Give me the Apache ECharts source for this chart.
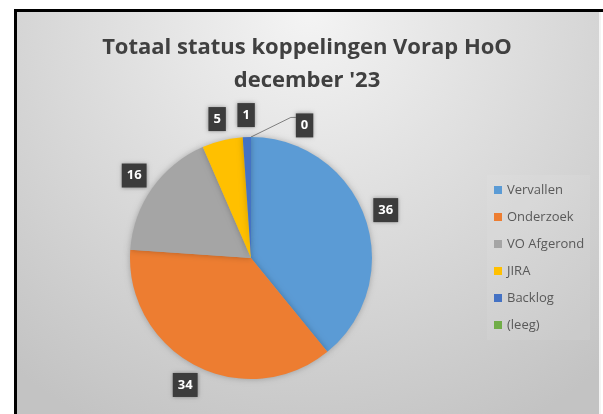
<!DOCTYPE html>
<html>
<head>
<meta charset="utf-8">
<script src="https://cdn.jsdelivr.net/npm/echarts@6/dist/echarts.min.js"></script>
<style>
  html, body { margin: 0; padding: 0; background: #fff; }
  #chart { width: 603px; height: 414px; }
</style>
</head>
<body>
<div id="chart"></div>
<script>
const categories = ["Vervallen", "Onderzoek", "VO Afgerond", "JIRA", "Backlog", "(leeg)"];
const values = [36, 34, 16, 5, 1, 0];
const colors = ["#5B9BD5", "#ED7D31", "#A5A5A5", "#FFC000", "#4472C4", "#70AD47"];

const chart = echarts.init(document.getElementById("chart"));

const cx = 251, cy = 258, radius = 121;
const labelDist = 143;
const total = values.reduce((a, b) => a + b, 0);

// middle angle of each slice, clockwise from the top (radians)
function midAngle(i) {
  let before = 0;
  for (let k = 0; k < i; k++) before += values[k];
  return ((before + values[i] / 2) / total) * Math.PI * 2;
}

chart.setOption({
  animation: false,
  graphic: [
    {
      type: "rect",
      silent: true,
      z: -10,
      shape: { x: 16, y: 11, width: 584, height: 403 },
      style: {
        fill: {
          type: "radial", x: 0.5, y: 0, r: 1.15,
          colorStops: [
            { offset: 0, color: "#f4f4f4" },
            { offset: 1, color: "#c3c3c3" },
          ],
        },
      },
    },
    { type: "rect", silent: true, z: -9, shape: { x: 14, y: 9, width: 589, height: 3 }, style: { fill: "#000" } },
    { type: "rect", silent: true, z: -9, shape: { x: 14, y: 9, width: 3, height: 405 }, style: { fill: "#000" } },
    { type: "rect", silent: true, z: -9, shape: { x: 599, y: 12, width: 2, height: 402 }, style: { fill: "#f4f4f4" } },
  ],
  title: {
    text: "Totaal status koppelingen Vorap HoO\ndecember '23",
    left: 302,
    top: 26,
    textAlign: "center",
    textStyle: {
      fontFamily: "Open Sans",
      fontSize: 22,
      fontWeight: "bold",
      color: "#404040",
      lineHeight: 33,
    },
  },
  legend: {
    orient: "vertical",
    left: 487,
    top: 175,
    padding: [7, 6, 7, 7],
    backgroundColor: "rgba(255,255,255,0.07)",
    itemWidth: 8,
    itemHeight: 8,
    itemGap: 11,
    icon: "rect",
    data: categories,
    textStyle: { fontFamily: "Open Sans", fontSize: 13, lineHeight: 16, color: "#595959" },
  },
  series: [
    {
      type: "pie",
      center: [cx, cy],
      radius: radius,
      startAngle: 90,
      avoidLabelOverlap: false,
      stillShowZeroSum: true,
      itemStyle: { shadowBlur: 6, shadowColor: "rgba(0,0,0,0.25)" },
      label: {
        show: true,
        position: "outside",
        formatter: "{c}",
        color: "#fff",
        fontFamily: "Open Sans",
        fontWeight: "bold",
        fontSize: 13,
        lineHeight: 14,
        backgroundColor: "#3c3c3c",
        padding: [5, 5, 5, 5],
        shadowBlur: 4,
        shadowColor: "rgba(0,0,0,0.35)",
      },
      labelLine: { show: false, length: 8, length2: 0 },
      labelLayout: (params) => {
        const i = params.dataIndex;
        let a = midAngle(i);
        // the empty slice has its label pushed aside, with a leader line
        if (values[i] === 0) a += (22 / 180) * Math.PI;
        const tx = cx + Math.sin(a) * labelDist;
        const ty = cy - Math.cos(a) * labelDist;
        const r = params.labelRect;
        const out = {
          dx: tx - (r.x + r.width / 2),
          dy: ty - (r.y + r.height / 2),
        };
        if (values[i] === 0) {
          const m = midAngle(i);
          const sx = cx + Math.sin(m) * radius;
          const sy = cy - Math.cos(m) * radius;
          const ex = tx - r.width / 2;
          const ey = ty - 8;
          out.labelLinePoints = [[sx, sy], [ex - 5, ey], [ex, ey]];
        }
        return out;
      },
      data: categories.map((name, i) => ({
        name,
        value: values[i],
        itemStyle: { color: colors[i] },
        labelLine: values[i] === 0 ? { show: true, lineStyle: { color: "#7f7f7f", width: 1 } } : undefined,
      })),
    },
  ],
});
</script>
</body>
</html>
